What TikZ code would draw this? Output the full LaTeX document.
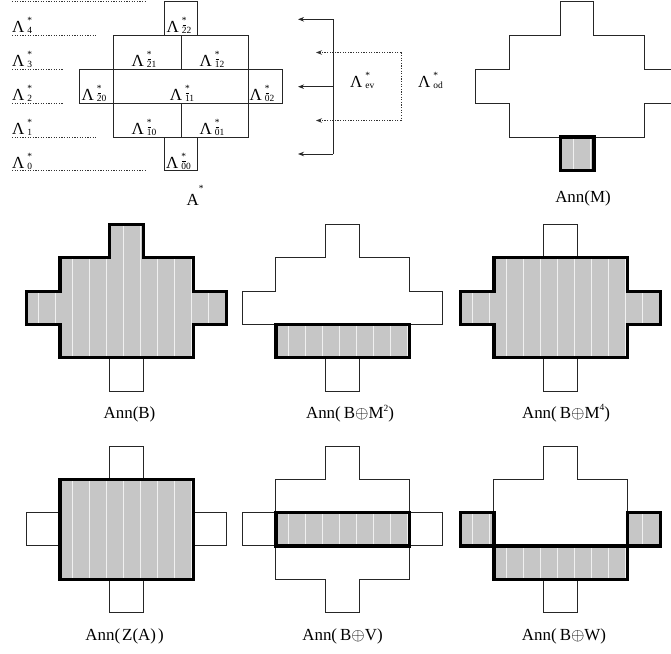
\documentclass[tikz,border=0pt]{standalone}
\usepackage{fontspec}
\setmainfont{Liberation Serif}
\usetikzlibrary{arrows.meta}

\newcommand{\scr}{\fontsize{9.5}{9.5}\selectfont}
\newcommand{\Lab}[1]{Λ\kern3bp\rlap{\raisebox{9bp}{\scr *}}\raisebox{-1bp}{\scr #1}}
\newcommand{\bd}[1]{\rlap{\kern0.8bp\raisebox{8bp}{\rule{3.5bp}{0.6bp}}}#1}
\newcommand{\crossoutline}[1]{\draw[#1] (-0.5,0) -- (0.5,0) -- (0.5,1) -- (2,1) -- (2,2) -- (3,2) -- (3,3) -- (2,3) -- (2,4) -- (0.5,4) -- (0.5,5) -- (-0.5,5) -- (-0.5,4) -- (-2,4) -- (-2,3) -- (-3,3) -- (-3,2) -- (-2,2) -- (-2,1) -- (-0.5,1) -- cycle;}
\newcommand{\shreg}[1]{%
  \begin{scope}
    \clip #1;
    \fill[shadefill] (-4,-1) rectangle (4,6);
    \foreach \k in {-7,...,7} \draw[white, opacity=0.75, line width=0.8bp] ({-0.1+0.51*\k},-1) -- ({-0.1+0.51*\k},6);
  \end{scope}
  \draw[lnthick] #1;}

\tikzset{
  lnA/.style={draw=black!85, line width=1bp},
  lnthin/.style={draw=black!85, line width=0.85bp},
  lnthick/.style={draw=black, line width=3.2bp, line join=miter},
  shadefill/.style={fill={rgb,255:red,198;green,198;blue,198}},
  dotln/.style={draw=black!80, line width=0.8bp, dash pattern=on 1.2bp off 1.4bp},
  lab/.style={font=\fontsize{17}{20}\selectfont, inner sep=0pt, anchor=base},
  rowlab/.style={font=\fontsize{17}{20}\selectfont, inner sep=0pt, anchor=base west},
  arr/.style={-{Stealth[length=6bp,width=4.5bp]}},
  dtop/.style={x=33.8bp, y=-33.8bp, yshift=-1.8bp},
  dmid/.style={x=33.3bp, y=-33.3bp, yshift=-224.5bp},
  dbot/.style={x=33.3bp, y=-33.3bp, yshift=-446bp},
}

\begin{document}
\begin{tikzpicture}[x=1bp, y=-1bp]
\useasboundingbox (0,0) rectangle (671,654);
\clip (0,0) rectangle (671,654);

% ---------- row labels with dotted lines ----------
\coordinate (l5a) at (12,1.8);   \coordinate (l5b) at (147,1.8);
\coordinate (l4a) at (12,35.6);  \coordinate (l4b) at (97,35.6);
\coordinate (l3a) at (12,69.4);  \coordinate (l3b) at (63,69.4);
\coordinate (l2a) at (12,103.2); \coordinate (l2b) at (63,103.2);
\coordinate (l1a) at (12,137);   \coordinate (l1b) at (97,137);
\coordinate (l0a) at (12,170.8); \coordinate (l0b) at (147,170.8);
\foreach \i in {0,...,5} \draw[dotln] (l\i a) -- (l\i b);
\node[rowlab] (r4) at (12,33) {\Lab{4}};
\node[rowlab] (r3) at (12,67) {\Lab{3}};
\node[rowlab] (r2) at (12,100.5) {\Lab{2}};
\node[rowlab] (r1) at (12,134.5) {\Lab{1}};
\node[rowlab] (r0) at (12,168.5) {\Lab{0}};

% ---------- A* diagram ----------
\begin{scope}[dtop, xshift=181bp]
  \crossoutline{lnA}
  \draw[lnA] (-2,1) -- (2,1);
  \draw[lnA] (-3,2) -- (3,2);
  \draw[lnA] (-3,3) -- (3,3);
  \draw[lnA] (-2,4) -- (2,4);
  \draw[lnA] (0,1) -- (0,2);
  \draw[lnA] (0,3) -- (0,4);
  \draw[lnA] (-2,2) -- (-2,3);
  \draw[lnA] (2,2) -- (2,3);
\end{scope}
\node[lab] (c22) at (179,33) {\Lab{\bd{2}2}};
\node[lab] (c21) at (144,67) {\Lab{\bd{2}1}};
\node[lab] (c12) at (212,67) {\Lab{\bd{1}2}};
\node[lab] (c20) at (94,100.5) {\Lab{\bd{2}0}};
\node[lab] (c11) at (182,100.5) {\Lab{\bd{1}1}};
\node[lab] (c02) at (262,100.5) {\Lab{\bd{0}2}};
\node[lab] (c10) at (144,134.5) {\Lab{\bd{1}0}};
\node[lab] (c01) at (212,134.5) {\Lab{\bd{0}1}};
\node[lab] (c00) at (178.5,168.5) {\Lab{\bd{0}0}};
\node[lab] (astar) at (195,205) {A\raisebox{14bp}{\scr *}};

% ---------- arrows ----------
\coordinate (vt) at (333,19.3);
\coordinate (vm) at (333,86.7);
\coordinate (vb) at (333,154);
\coordinate (tt) at (298,19.3);
\coordinate (tm) at (298,86.7);
\coordinate (tb) at (298,154);
\draw[lnA] (vt) -- (vb);
\draw[lnA,arr] (vt) -- (tt);
\draw[lnA,arr] (vm) -- (tm);
\draw[lnA,arr] (vb) -- (tb);
\coordinate (d1) at (401,52.5);
\coordinate (d2) at (401,120.5);
\coordinate (e1) at (316,52.5);
\coordinate (e2) at (316,120.5);
\draw[dotln] (d1) -- (d2);
\draw[dotln,arr] (d1) -- (e1);
\draw[dotln,arr] (d2) -- (e2);
\node[rowlab] (lev) at (350,88) {\Lab{ev}};
\node[rowlab] (lod) at (418,88) {\Lab{od}};

% ---------- Ann(M) ----------
\begin{scope}[dtop, xshift=577bp]
  \crossoutline{lnthin}
  \shreg{(-0.5,4) rectangle (0.5,5)}
\end{scope}
\node[lab] (tM) at (583,202) {Ann(M)};

% ---------- Ann(B) ----------
\begin{scope}[dmid, xshift=126.5bp]
  \draw[lnthin] (-0.5,4) rectangle (0.5,5);
  \shreg{(-0.5,0) -- (0.5,0) -- (0.5,1) -- (2,1) -- (2,2) -- (3,2) -- (3,3) -- (2,3) -- (2,4) -- (-2,4) -- (-2,3) -- (-3,3) -- (-3,2) -- (-2,2) -- (-2,1) -- (-0.5,1) -- cycle}
\end{scope}
\node[lab] (tB) at (129.5,418) {Ann(B)};

% ---------- Ann(B+M^2) ----------
\begin{scope}[dmid, xshift=342.5bp]
  \crossoutline{lnthin}
  \shreg{(-2,3) rectangle (2,4)}
\end{scope}
\node[lab] (tBM2) at (350,418) {Ann(\kern3bp B$\oplus$M\raisebox{7bp}{\scr 2})};

% ---------- Ann(B+M^4) ----------
\begin{scope}[dmid, xshift=560.5bp]
  \crossoutline{lnthin}
  \shreg{(-2,1) -- (2,1) -- (2,2) -- (3,2) -- (3,3) -- (2,3) -- (2,4) -- (-2,4) -- (-2,3) -- (-3,3) -- (-3,2) -- (-2,2) -- cycle}
\end{scope}
\node[lab] (tBM4) at (566,418) {Ann(\kern3bp B$\oplus$M\raisebox{8bp}{\scr 4})};

% ---------- Ann(Z(A)) ----------
\begin{scope}[dbot, xshift=126.5bp]
  \draw[lnthin] (-0.5,0) rectangle (0.5,1);
  \draw[lnthin] (-3,2) rectangle (-2,3);
  \draw[lnthin] (2,2) rectangle (3,3);
  \draw[lnthin] (-0.5,4) rectangle (0.5,5);
  \shreg{(-2,1) rectangle (2,4)}
\end{scope}
\node[lab] (tZA) at (124.5,640) {Ann(\kern2bp Z(A)\kern2bp)};

% ---------- Ann(B+V) ----------
\begin{scope}[dbot, xshift=342.5bp]
  \crossoutline{lnthin}
  \shreg{(-2,2) rectangle (2,3)}
\end{scope}
\node[lab] (tBV) at (342.5,640) {Ann(\kern3bp B$\oplus$V)};

% ---------- Ann(B+W) ----------
\begin{scope}[dbot, xshift=560.5bp]
  \crossoutline{lnthin}
  \shreg{(-3,2) rectangle (-2,3)}
  \shreg{(2,2) rectangle (3,3)}
  \shreg{(-2,3) rectangle (2,4)}
\end{scope}
\node[lab] (tBW) at (564,640) {Ann(\kern3bp B$\oplus$W)};
\end{tikzpicture}
\end{document}
